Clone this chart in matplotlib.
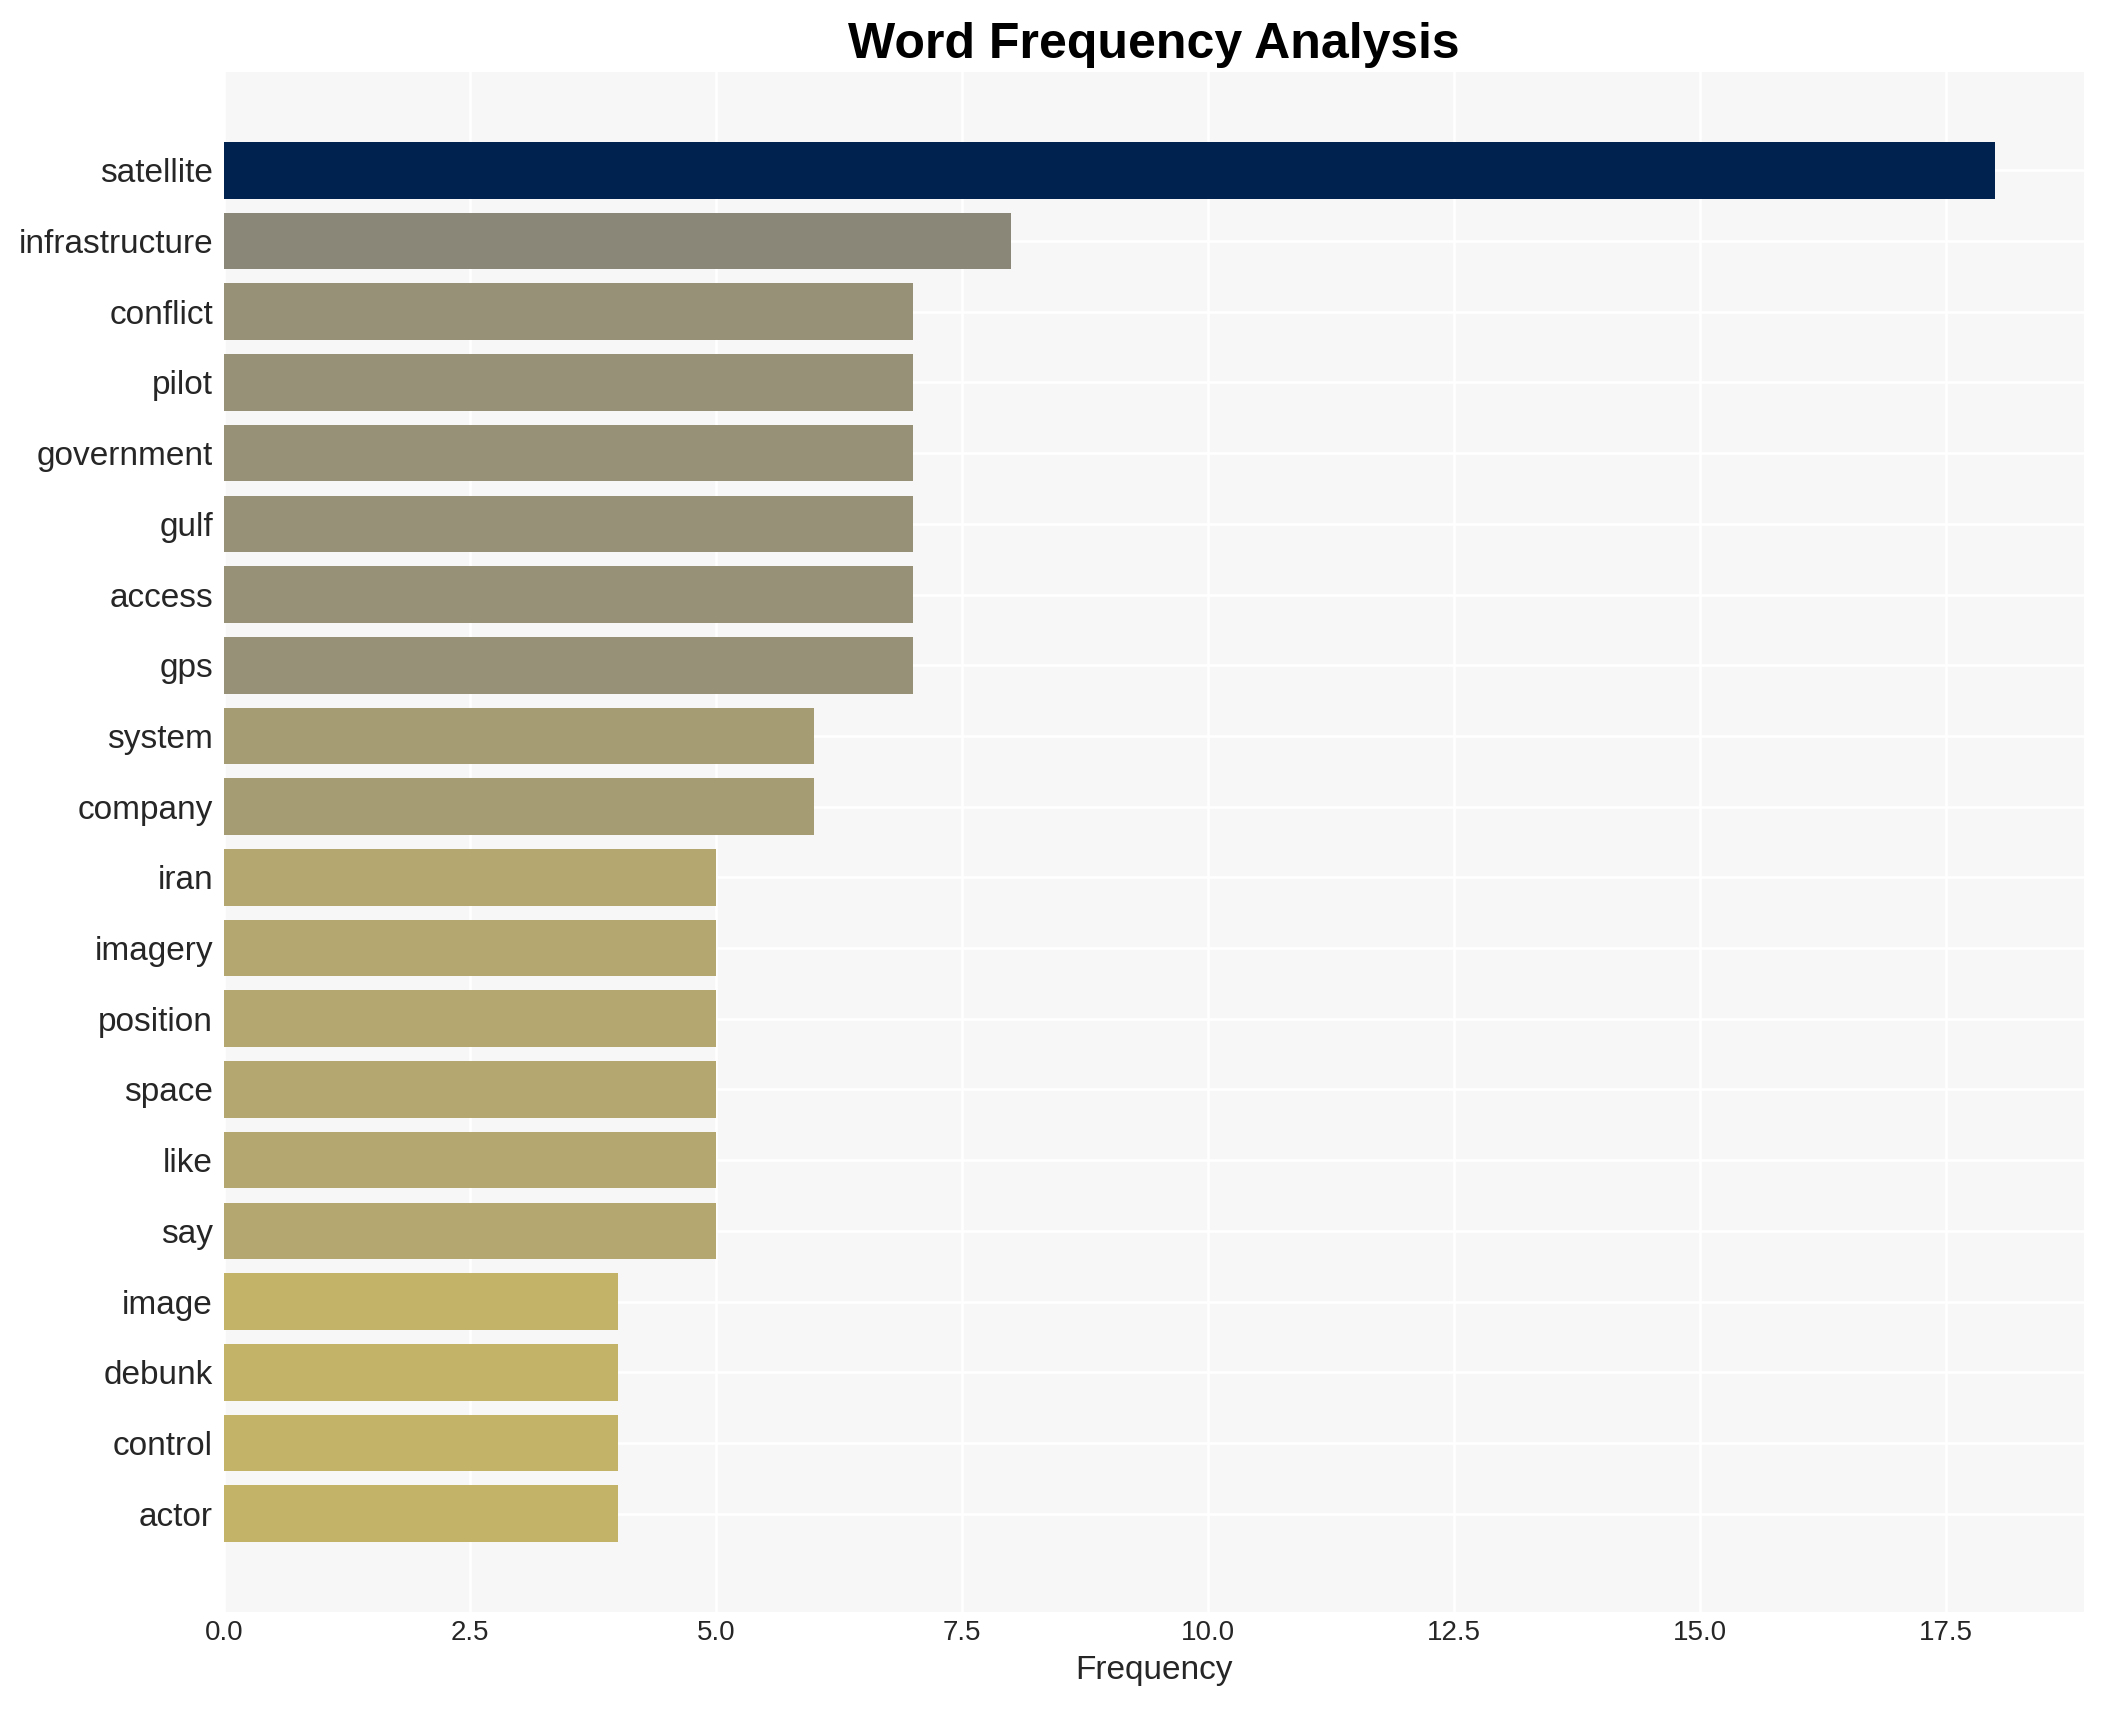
import matplotlib
matplotlib.use("Agg")
import matplotlib.pyplot as plt
import numpy as np

words = ["satellite", "infrastructure", "conflict", "pilot", "government", "gulf",
         "access", "gps", "system", "company", "iran", "imagery", "position",
         "space", "like", "say", "image", "debunk", "control", "actor"]
counts = [18, 8, 7, 7, 7, 7, 7, 7, 6, 6, 5, 5, 5, 5, 5, 5, 4, 4, 4, 4]

plt.rcParams['font.family'] = ['Liberation Sans', 'DejaVu Sans']

fig = plt.figure(figsize=(2103 / 200, 1710 / 200), dpi=200)
ax = fig.add_axes([224 / 2103, 1 - 1612 / 1710, (2084 - 224) / 2103, (1612 - 72) / 1710])

vals = np.array(counts, dtype=float)
colors = plt.cm.cividis_r(vals / vals.max())
y = np.arange(len(words))
ax.barh(y, vals, color=colors, height=0.8, zorder=2)
ax.set_yticks(y)
ax.set_yticklabels(words)
ax.invert_yaxis()
ax.set_xlim(0, vals.max() * 1.05)

ax.set_facecolor('#f7f7f7')
ax.grid(True, color='white', linewidth=0.9, zorder=0)
ax.set_axisbelow(True)
for s in ax.spines.values():
    s.set_visible(False)
ax.tick_params(axis='both', length=0, colors='#262626')
ax.tick_params(axis='y', labelsize=12, pad=4)
ax.tick_params(axis='x', labelsize=10, pad=3)
ax.set_xlabel('Frequency', fontsize=12, color='#262626', labelpad=3)
ax.set_title('Word Frequency Analysis', fontsize=18, fontweight='bold', pad=5, color='black')

fig.savefig('out.png', dpi=200, facecolor='white')
